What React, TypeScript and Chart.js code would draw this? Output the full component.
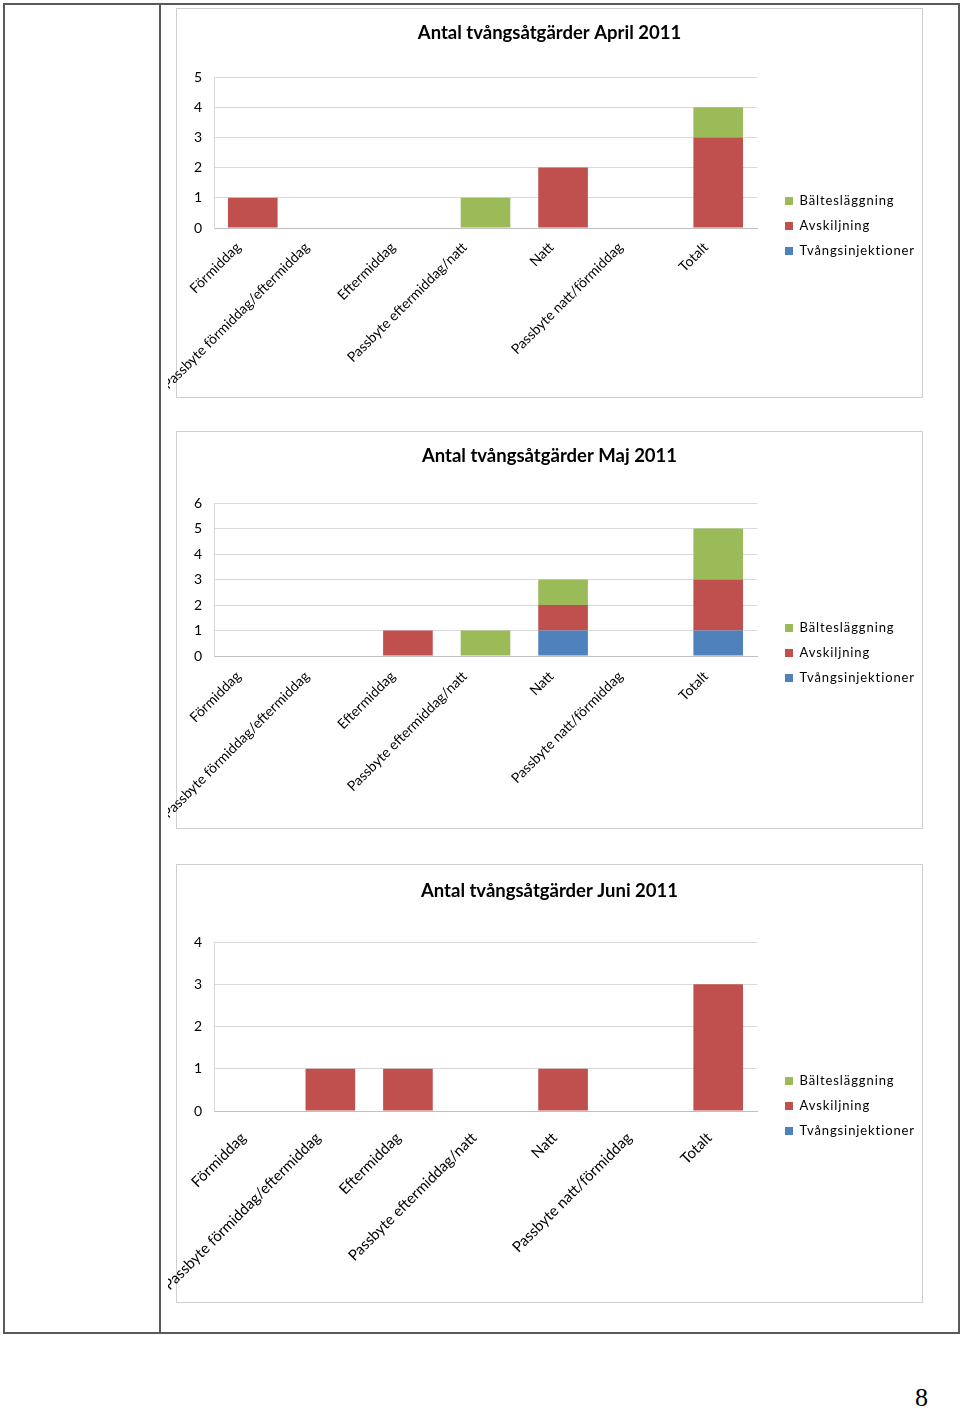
import React, { useEffect, useRef } from "react";
import { Chart, registerables } from "chart.js";

Chart.register(...registerables);

const categories = [
  "Förmiddag",
  "Passbyte förmiddag/eftermiddag",
  "Eftermiddag",
  "Passbyte eftermiddag/natt",
  "Natt",
  "Passbyte natt/förmiddag",
  "Totalt",
];

const seriesNames = ["Tvångsinjektioner", "Avskiljning", "Bältesläggning"];

const aprilTvang = [0, 0, 0, 0, 0, 0, 0];
const aprilAvsk = [1, 0, 0, 0, 2, 0, 3];
const aprilBalte = [0, 0, 0, 1, 0, 0, 1];

const majTvang = [0, 0, 0, 0, 1, 0, 1];
const majAvsk = [0, 0, 1, 0, 1, 0, 2];
const majBalte = [0, 0, 0, 1, 1, 0, 2];

const juniTvang = [0, 0, 0, 0, 0, 0, 0];
const juniAvsk = [0, 1, 1, 0, 1, 0, 3];
const juniBalte = [0, 0, 0, 0, 0, 0, 0];

const titles = [
  "Antal tvångsåtgärder April 2011",
  "Antal tvångsåtgärder Maj 2011",
  "Antal tvångsåtgärder Juni 2011",
];
const yMax = [5, 6, 4];

const COLORS = ["#4F81BD", "#C0504D", "#9BBB59"];
const FONT = "Lato, 'Open Sans', sans-serif";

type Layout = {
  boxTop: number;
  boxBottom: number;
  titleY: number;
  plotTop: number;
  plotBottom: number;
  legendY: number;
  xFont: number;
  xPad: number;
  xOffset: number;
  xShift: number;
};

const BOX_LEFT = 176;
const BOX_RIGHT = 923;
const CANVAS_LEFT = 168;
const CANVAS_W = BOX_RIGHT - CANVAS_LEFT;
const PAD_LEFT = BOX_LEFT - CANVAS_LEFT;
const PLOT_LEFT = 214 - CANVAS_LEFT;
const PLOT_RIGHT = 757 - CANVAS_LEFT;
const LEGEND_X = 785 - CANVAS_LEFT;

const layouts: Layout[] = [
  { boxTop: 8, boxBottom: 398, titleY: 25, plotTop: 69, plotBottom: 220, legendY: 193, xFont: 14, xPad: 11, xOffset: -10, xShift: 0.067 },
  { boxTop: 431, boxBottom: 829, titleY: 25, plotTop: 72, plotBottom: 225, legendY: 197, xFont: 14, xPad: 12, xOffset: -10, xShift: 0.067 },
  { boxTop: 864, boxBottom: 1303, titleY: 27, plotTop: 78, plotBottom: 247, legendY: 217, xFont: 15, xPad: 18, xOffset: -8, xShift: 0.02 },
];

function ChartBox({ idx, data }: { idx: number; data: number[][] }) {
  const ref = useRef<HTMLCanvasElement | null>(null);
  const L = layouts[idx];
  const H = L.boxBottom - L.boxTop;
  useEffect(() => {
    if (!ref.current) return;
    const titleSize = 18.5;
    const lh = titleSize * 1.2;
    const pt = L.titleY - lh / 2;
    const pb = L.plotTop - pt - lh;
    const legendPad = 12;
    const legendItemH = 13;
    const chart = new Chart(ref.current, {
      type: "bar",
      data: {
        labels: categories,
        datasets: seriesNames.map((name, i) => ({
          label: name,
          data: data[i],
          backgroundColor: COLORS[i],
          borderWidth: 0,
          barPercentage: 0.64,
          categoryPercentage: 1,
        })),
      },
      options: {
        animation: false,
        responsive: false,
        maintainAspectRatio: false,
        layout: { padding: { left: PAD_LEFT, right: 0, top: 0, bottom: 0 } },
        plugins: {
          tooltip: { enabled: false },
          title: {
            display: true,
            text: titles[idx],
            color: "#000",
            font: { family: FONT, size: titleSize, weight: "bold", lineHeight: 1.2 },
            padding: { top: pt, bottom: pb },
          },
          legend: {
            display: true,
            position: "chartArea" as any,
            align: "start",
            reverse: true,
            labels: {
              boxWidth: 8,
              boxHeight: 8,
              padding: legendPad,
              color: "#000",
              font: { family: FONT, size: 13 },
            },
          },
        },
        scales: {
          x: {
            stacked: true,
            grid: { display: false, drawTicks: false },
            border: { display: true, color: "#BFBFBF", width: 1 },
            ticks: {
              autoSkip: false,
              minRotation: 45,
              maxRotation: 45,
              padding: L.xPad,
              labelOffset: L.xOffset,
              color: "#000",
              font: { family: FONT, size: L.xFont },
            },
            afterFit: (s: any) => {
              s.height = H - L.plotBottom;
              s.paddingLeft = 0;
              s.paddingRight = 0;
            },
          },
          y: {
            stacked: true,
            min: 0,
            max: yMax[idx],
            grid: { color: "#D9D9D9", drawTicks: false },
            border: { display: true, color: "#D9D9D9", width: 1 },
            ticks: {
              stepSize: 1,
              padding: 12,
              color: "#000",
              font: { family: FONT, size: 14 },
            },
            afterFit: (s: any) => {
              s.width = PLOT_LEFT - PAD_LEFT;
              s.paddingTop = 0;
              s.paddingBottom = 0;
            },
          },
          legendSpace: {
            type: "linear",
            position: "right",
            display: true,
            grid: { display: false, drawTicks: false },
            border: { display: false },
            ticks: { display: false },
            afterFit: (s: any) => {
              s.width = CANVAS_W - PLOT_RIGHT;
              s.paddingTop = 0;
              s.paddingBottom = 0;
            },
          },
        },
      },
      plugins: [
        {
          id: "legendPlace",
          afterLayout(c: any) {
            const lg = c.legend;
            if (lg) {
              if (!lg._lsPatched) {
                const orig = lg.draw.bind(lg);
                lg.draw = function (...args: any[]) {
                  const ctx = c.ctx as any;
                  ctx.save();
                  ctx.letterSpacing = "0.9px";
                  orig(...args);
                  ctx.restore();
                };
                lg._lsPatched = true;
              }
              lg.left = LEGEND_X - legendPad;
              lg.right = lg.left + 200;
              lg.top = L.legendY - legendItemH / 2 - legendPad;
              lg.bottom = lg.top + 300;
            }
            const sx = c.scales.x;
            if (sx && !sx._shiftPatched) {
              const origItems = sx._computeLabelItems.bind(sx);
              sx._computeLabelItems = function (area: any) {
                const items = origItems(area);
                const ctx = c.ctx;
                items.forEach((it: any) => {
                  ctx.save();
                  ctx.font = it.font.string;
                  const w = ctx.measureText(String(it.label)).width;
                  ctx.restore();
                  if (it.options && it.options.translation) {
                    it.options.translation[0] -= L.xShift * w;
                  }
                });
                return items;
              };
              sx._shiftPatched = true;
            }
          },
        },
      ],
    });
    return () => chart.destroy();
  }, []);
  return (
    <>
      <div
        style={{
          position: "absolute",
          left: BOX_LEFT,
          top: L.boxTop,
          width: BOX_RIGHT - BOX_LEFT - 2,
          height: H - 2,
          border: "1px solid #CFCFCF",
          background: "#fff",
        }}
      />
      <canvas
        ref={ref}
        width={CANVAS_W}
        height={H}
        style={{ position: "absolute", left: CANVAS_LEFT, top: L.boxTop, width: CANVAS_W, height: H }}
      />
    </>
  );
}

export default function App() {
  return (
    <div style={{ position: "absolute", left: 0, top: 0, width: 960, height: 1409, background: "#fff", overflow: "hidden" }}>
      <div
        style={{
          position: "absolute",
          left: 3,
          top: 3,
          width: 953,
          height: 1327,
          border: "2px solid #5a5a5a",
        }}
      />
      <div style={{ position: "absolute", left: 159, top: 3, width: 2, height: 1331, background: "#5a5a5a" }} />
      <ChartBox idx={0} data={[aprilTvang, aprilAvsk, aprilBalte]} />
      <ChartBox idx={1} data={[majTvang, majAvsk, majBalte]} />
      <ChartBox idx={2} data={[juniTvang, juniAvsk, juniBalte]} />
      <div
        style={{
          position: "absolute",
          left: 915,
          top: 1385,
          fontFamily: "'Liberation Serif', 'DejaVu Serif', serif",
          fontSize: 26,
          lineHeight: "26px",
          color: "#000",
        }}
      >
        8
      </div>
    </div>
  );
}
